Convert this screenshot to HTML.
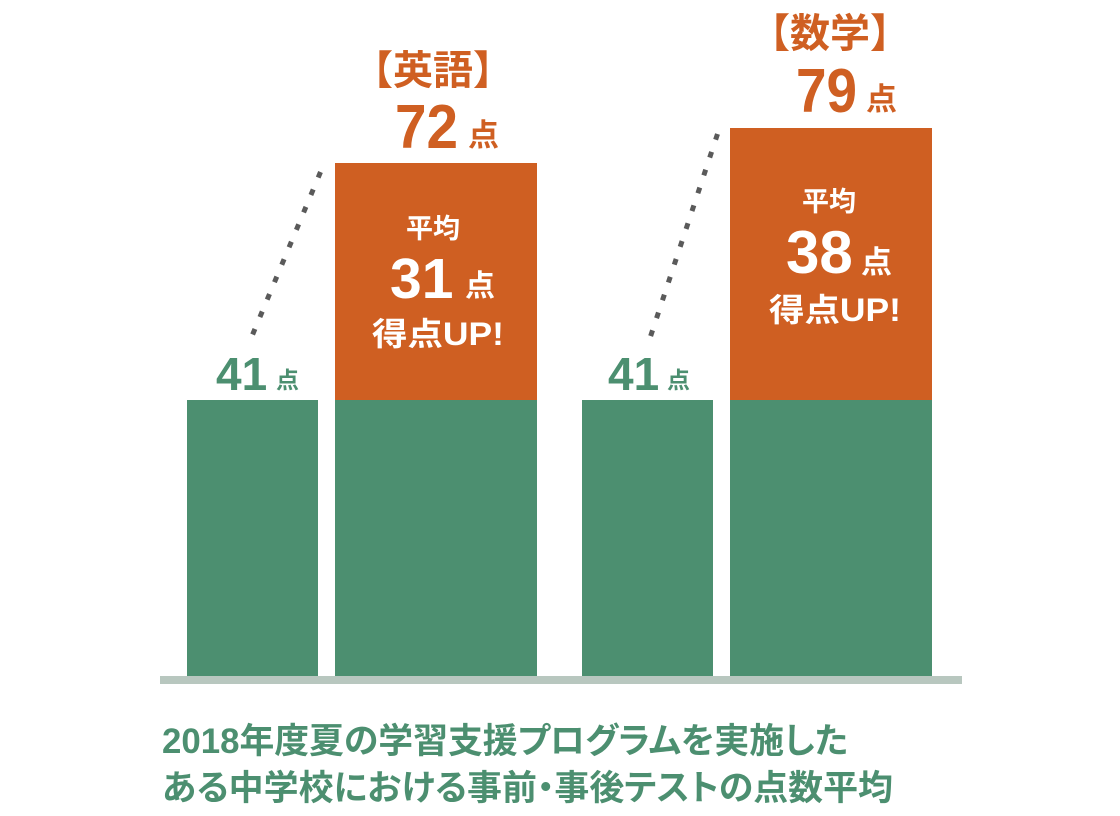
<!DOCTYPE html>
<html>
<head>
<meta charset="utf-8">
<style>
html,body{margin:0;padding:0;background:#fff;}
svg{display:block;}
text{font-family:"Liberation Sans","Noto Sans CJK JP",sans-serif;font-weight:700;}
.cap{font-feature-settings:"palt" 1;}
</style>
</head>
<body>
<svg width="1120" height="816" viewBox="0 0 1120 816" xmlns="http://www.w3.org/2000/svg">
  <!-- bars -->
  <rect x="187" y="400" width="131" height="276" fill="#4c8f70"/>
  <rect x="335" y="163" width="202" height="237" fill="#cf5f22"/>
  <rect x="335" y="400" width="202" height="276" fill="#4c8f70"/>
  <rect x="582" y="400" width="131" height="276" fill="#4c8f70"/>
  <rect x="730" y="128" width="202" height="272" fill="#cf5f22"/>
  <rect x="730" y="400" width="202" height="276" fill="#4c8f70"/>
  <!-- baseline -->
  <rect x="160" y="676" width="802" height="8" fill="#b8c7bf"/>

  <!-- dotted lines -->
  <line x1="320.5" y1="172" x2="252" y2="336" stroke="#5a5a5a" stroke-width="5" stroke-dasharray="6 12.9"/>
  <line x1="717.5" y1="134" x2="650" y2="338" stroke="#5a5a5a" stroke-width="5" stroke-dasharray="6 12.8"/>

  <!-- English labels -->
  <text x="353" y="84" font-size="40" fill="#cf5f22">【英語】</text>
  <text x="395" y="148" font-size="62" fill="#cf5f22" textLength="63" lengthAdjust="spacingAndGlyphs">72</text>
  <text x="468" y="146" font-size="31" fill="#cf5f22">点</text>

  <text x="216" y="390" font-size="46" fill="#4c8f70">41</text>
  <text x="276" y="388" font-size="23" fill="#4c8f70">点</text>

  <text x="406" y="238" font-size="27" fill="#ffffff">平均</text>
  <text x="390" y="298" font-size="57" fill="#ffffff">31</text>
  <text x="465" y="296" font-size="30" fill="#ffffff">点</text>
  <text x="372" y="345" font-size="32" fill="#ffffff" textLength="132" lengthAdjust="spacingAndGlyphs">得点UP!</text>

  <!-- Math labels -->
  <text x="750" y="47" font-size="40" fill="#cf5f22">【数学】</text>
  <text x="796" y="112" font-size="62" fill="#cf5f22" textLength="61" lengthAdjust="spacingAndGlyphs">79</text>
  <text x="866" y="110" font-size="31" fill="#cf5f22">点</text>

  <text x="608" y="390" font-size="46" fill="#4c8f70">41</text>
  <text x="667" y="388" font-size="23" fill="#4c8f70">点</text>

  <text x="802" y="211" font-size="27" fill="#ffffff">平均</text>
  <text x="786" y="273" font-size="60" fill="#ffffff">38</text>
  <text x="861" y="273" font-size="31" fill="#ffffff">点</text>
  <text x="769" y="321" font-size="32" fill="#ffffff" textLength="132" lengthAdjust="spacingAndGlyphs">得点UP!</text>

  <!-- caption -->
  <text class="cap" x="162" y="753" font-size="35" fill="#4c8f70" textLength="686" lengthAdjust="spacingAndGlyphs">2018年度夏の学習支援プログラムを実施した</text>
  <text class="cap" x="162" y="800" font-size="35" fill="#4c8f70" textLength="731" lengthAdjust="spacingAndGlyphs">ある中学校における事前・事後テストの点数平均</text>
</svg>
</body>
</html>
